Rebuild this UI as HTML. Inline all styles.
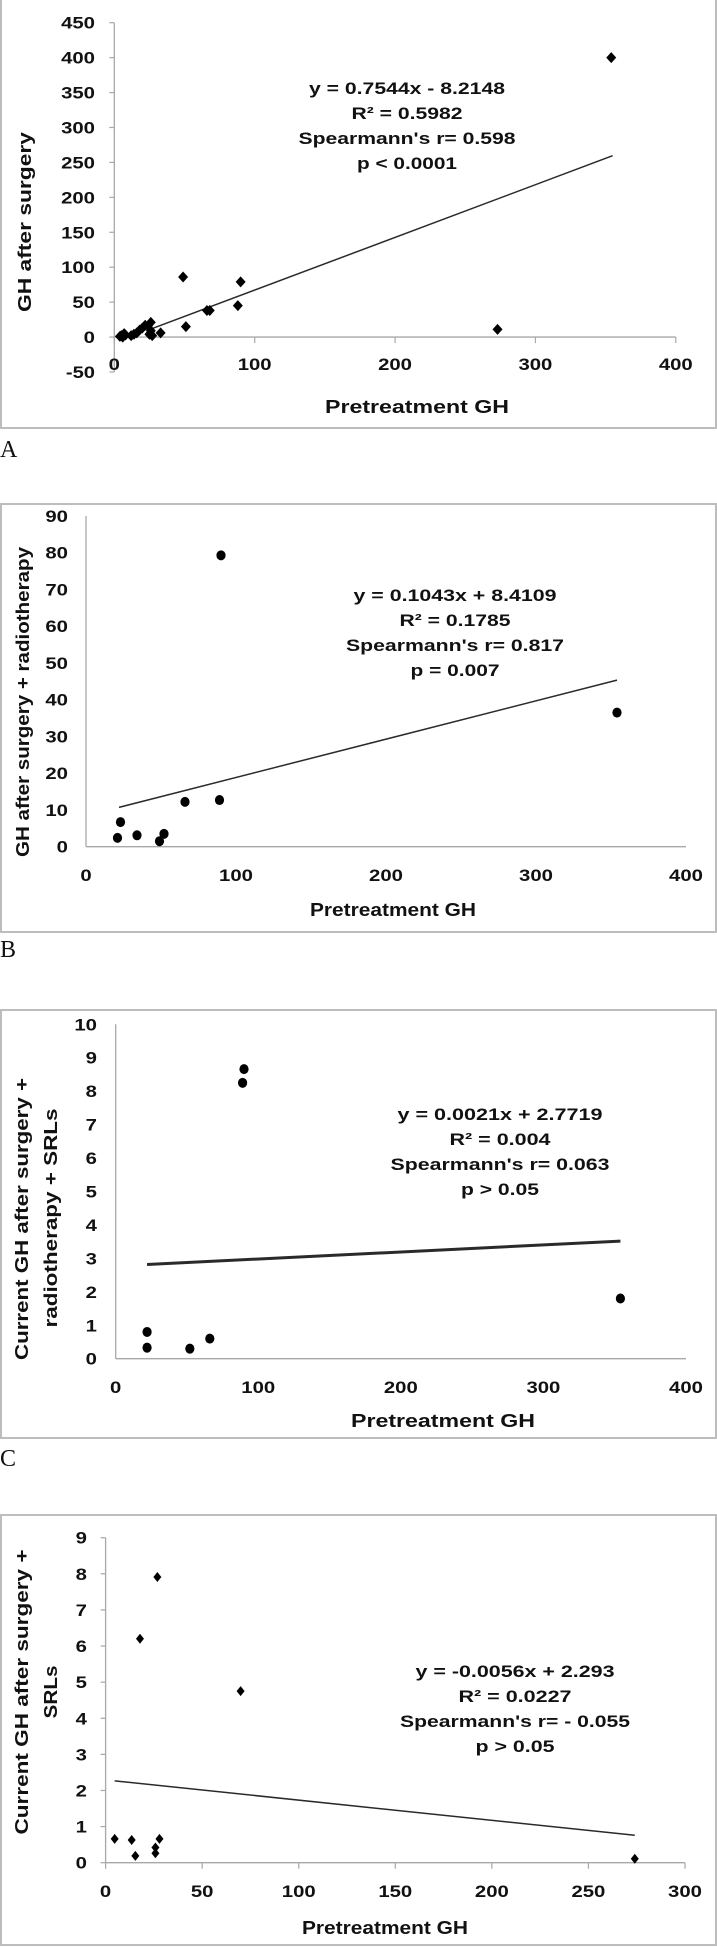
<!DOCTYPE html>
<html><head><meta charset="utf-8"><title>GH correlations</title>
<style>
html,body{margin:0;padding:0;background:#fff;}
svg{display:block;font-family:"Liberation Sans",Arial,sans-serif;}
</style></head>
<body>
<svg id="fig" width="717" height="1948" viewBox="0 0 717 1948" xmlns="http://www.w3.org/2000/svg"></svg>
<script>
// ---- Panel A data ----
const aX = [4,5,6,7,8,12,14,16,18,20,22,24,26,25,26,27,33,49,51,66,68,88,90,273,354];
const aY = [1,2,0,5,3,2,4,6,10,13,17,16,21,4,9,2,6,86,15,38,38,45,79,11,400];
const aXTicks = [0,100,200,300,400];
const aYTicks = [-50,0,50,100,150,200,250,300,350,400,450];
const aFit = [0.7544,-8.2148];
const aFitRange = [26,355];
const aNotes = ["y = 0.7544x - 8.2148","R² = 0.5982","Spearmann's r= 0.598","p < 0.0001"];
// ---- Panel B data ----
const bX = [21,23,34,49,52,66,89,90,354];
const bY = [2.4,6.7,3.1,1.5,3.5,12.2,12.7,79.3,36.5];
const bXTicks = [0,100,200,300,400];
const bYTicks = [0,10,20,30,40,50,60,70,80,90];
const bFit = [0.1043,8.4109];
const bFitRange = [22,354];
const bNotes = ["y = 0.1043x + 8.4109","R² = 0.1785","Spearmann's r= 0.817","p = 0.007"];
// ---- Panel C data ----
const cX = [22,22,52,66,89,90,354];
const cY = [0.33,0.8,0.3,0.6,8.25,8.66,1.8];
const cXTicks = [0,100,200,300,400];
const cYTicks = [0,1,2,3,4,5,6,7,8,9,10];
const cFit = [0.0021,2.7719];
const cFitRange = [22,354];
const cNotes = ["y = 0.0021x + 2.7719","R² = 0.004","Spearmann's r= 0.063","p > 0.05"];
// ---- Panel D data ----
const dX = [4.7,13.5,15.4,17.8,25.8,25.8,26.8,27.9,69.9,274];
const dY = [0.66,0.63,0.19,6.2,0.42,0.26,7.91,0.66,4.75,0.11];
const dXTicks = [0,50,100,150,200,250,300];
const dYTicks = [0,1,2,3,4,5,6,7,8,9];
const dFit = [-0.0056,2.293];
const dFitRange = [4.7,274];
const dNotes = ["y = -0.0056x + 2.293","R² = 0.0227","Spearmann's r= - 0.055","p > 0.05"];

const NS = "http://www.w3.org/2000/svg";
const svg = document.getElementById('fig');
function mk(tag, attrs, parent){
  const e = document.createElementNS(NS, tag);
  for (const k in attrs) e.setAttribute(k, attrs[k]);
  (parent||svg).appendChild(e);
  return e;
}
function txt(s, x, y, size, anchor, len, parent, weight, family){
  const t = mk('text', {x:x, y:y, 'font-size':size, 'text-anchor':anchor||'middle', 'font-weight':weight||'bold', fill:'#111'}, parent);
  if (family) t.setAttribute('font-family', family);
  if (len){ t.setAttribute('textLength', len); t.setAttribute('lengthAdjust','spacingAndGlyphs'); }
  t.textContent = s;
  return t;
}
function tickLen(s){ let w=0; for(const ch of String(s)) w += (ch==='-'?6.5:11.3); return w; }

function panel(cfg, xs, ys, xt, yt, fit, fr, notes){
  const g = mk('g', {});
  
  
  const fr_ = mk('rect', {x:cfg.fx, y:cfg.fy0, width:cfg.fw, height:cfg.fy1-cfg.fy0, fill:'none', stroke:'#bdbdbd', 'stroke-width':2}, g);
  
  
  const X = v => cfg.px0 + (v - cfg.xmin) / (cfg.xmax - cfg.xmin) * (cfg.px1 - cfg.px0);
  const Y = v => cfg.py1 - (v - cfg.ymin) / (cfg.ymax - cfg.ymin) * (cfg.py1 - cfg.py0);
  // axes
  const ya = mk('line', {x1:X(cfg.xmin), x2:X(cfg.xmin), y1:Y(cfg.ymax), y2:Y(cfg.ymin), stroke:'#a8a8a8', 'stroke-width':1.3}, g);
  
  
  const xa = mk('line', {x1:X(cfg.xmin), x2:X(cfg.xmax), y1:Y(0), y2:Y(0), stroke:'#a8a8a8', 'stroke-width':1.3}, g);
  
  
  yt.forEach(v => {
    if (cfg.ticks) mk('line', {x1:X(cfg.xmin)-5, x2:X(cfg.xmin), y1:Y(v), y2:Y(v), stroke:'#a8a8a8', 'stroke-width':1.2}, g);
    const t = txt(String(v), cfg.ylabR, Y(v)+6, 17, 'end', tickLen(v), g);
    
    
  });
  xt.forEach(v => {
    if (cfg.ticks) mk('line', {x1:X(v), x2:X(v), y1:Y(0), y2:Y(0)+6, stroke:'#a8a8a8', 'stroke-width':1.2}, g);
    const t = txt(String(v), X(v), cfg.xlabY, 17, 'middle', tickLen(v), g);
    
    
  });
  // trendline
  const tl = mk('line', {x1:X(fr[0]), y1:Y(fit[0]*fr[0]+fit[1]), x2:X(fr[1]), y2:Y(fit[0]*fr[1]+fit[1]), stroke:'#2a2a2a', 'stroke-width':cfg.lw}, g);
  
  
  // points
  xs.forEach((v,i) => {
    const cx = X(v), cy = Y(ys[i]);
    let p;
    if (cfg.marker === 'circle') {
      p = mk('ellipse', {cx:cx, cy:cy, rx:4.6, ry:5, fill:'#000'}, g);
    } else {
      const w = cfg.mw, h = cfg.mh;
      p = mk('polygon', {points:`${cx},${cy-h} ${cx+w},${cy} ${cx},${cy+h} ${cx-w},${cy}`, fill:'#000'}, g);
    }
    
    
  });
  // annotations
  notes.forEach((s,i) => {
    const t = txt(s, cfg.noteX, cfg.noteY + i*25, 17, 'middle', cfg.noteW[i], g);
    
    
  });
  // x title
  const xtl = txt('Pretreatment GH', cfg.xtX, cfg.xtY, 18, 'middle', cfg.xtW, g);
  
  
  // y title lines
  cfg.yTitle.forEach(yl => {
    const t = txt(yl.s, 0, 0, 18, 'middle', yl.w, g);
    t.setAttribute('transform', `translate(${yl.x},${yl.y}) rotate(-90)`);
    
    
  });
  // panel letter
  const pl = txt(cfg.letter, 0, cfg.letterY, 24, 'start', null, g, 'normal', '"Liberation Serif", serif');
  
  
}

panel({name:'panel-a', fx:1, fy0:-2, fw:715, fy1:428, px0:114.3, px1:675.8, xmin:0, xmax:400,
  py0:22.7, py1:372, ymin:-50, ymax:450, ylabR:95, xlabY:370, ticks:true, lw:1.5,
  marker:'diamond', mw:5, mh:5.5, noteX:407, noteY:94, noteW:[196,111,217,100],
  xtX:417, xtY:413, xtW:184, yTitle:[{s:'GH after surgery', x:31, y:222, w:180}],
  letter:'A', letterY:457}, aX, aY, aXTicks, aYTicks, aFit, aFitRange, aNotes);

panel({name:'panel-b', fx:1, fy0:504, fw:715, fy1:932, px0:86, px1:686, xmin:0, xmax:400,
  py0:516, py1:846.7, ymin:0, ymax:90, ylabR:68, xlabY:881, ticks:false, lw:1.5,
  marker:'circle', noteX:455, noteY:601, noteW:[203,111,218,89],
  xtX:393, xtY:916, xtW:166, yTitle:[{s:'GH after surgery + radiotherapy', x:29, y:702, w:310}],
  letter:'B', letterY:957}, bX, bY, bXTicks, bYTicks, bFit, bFitRange, bNotes);

panel({name:'panel-c', fx:1, fy0:1010, fw:715, fy1:1438, px0:115.7, px1:686, xmin:0, xmax:400,
  py0:1024.3, py1:1358.7, ymin:0, ymax:10, ylabR:97, xlabY:1393, ticks:false, lw:3,
  marker:'circle', noteX:500, noteY:1120, noteW:[205,101,219,78],
  xtX:443, xtY:1427, xtW:184, yTitle:[{s:'Current GH after surgery +', x:28, y:1219, w:282},{s:'radiotherapy + SRLs', x:57, y:1218, w:219}],
  letter:'C', letterY:1466}, cX, cY, cXTicks, cYTicks, cFit, cFitRange, cNotes);

panel({name:'panel-d', fx:1, fy0:1515, fw:715, fy1:1945, px0:105.6, px1:685, xmin:0, xmax:300,
  py0:1537.7, py1:1862.7, ymin:0, ymax:9, ylabR:87, xlabY:1897, ticks:true, lw:1.5,
  marker:'diamond', mw:4, mh:5, noteX:515, noteY:1677, noteW:[199,113,230,79],
  xtX:385, xtY:1934, xtW:166, yTitle:[{s:'Current GH after surgery +', x:28, y:1692, w:285},{s:'SRLs', x:57, y:1692, w:53}],
  letter:'', letterY:1960}, dX, dY, dXTicks, dYTicks, dFit, dFitRange, dNotes);
</script>
</body></html>
